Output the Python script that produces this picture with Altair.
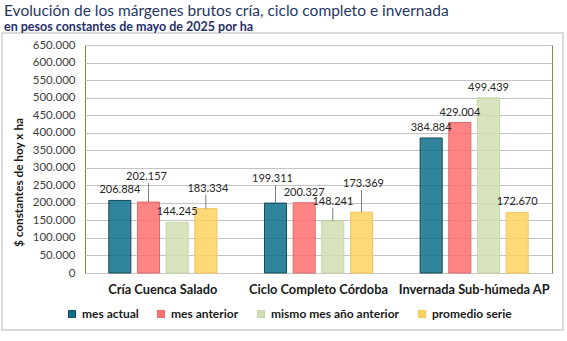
import altair as alt
import pandas as pd

groups = ["Cría Cuenca Salado", "Ciclo Completo Córdoba", "Invernada Sub-húmeda AP"]
series = ["mes actual", "mes anterior", "mismo mes año anterior", "promedio serie"]
mes_actual = [206884, 199311, 384884]
mes_anterior = [202157, 200327, 429004]
mismo_mes_anio_anterior = [144245, 148241, 499439]
promedio_serie = [183334, 173369, 172670]
y_ticks = list(range(0, 650001, 50000))

fills = ["#0C6E89", "#FF7070", "#D0DFB1", "#FFD160"]
strokes = ["#17485A", "#E06A6A", "#C5D6A4", "#F2C65C"]

rows = []
for s, vals in zip(series, [mes_actual, mes_anterior, mismo_mes_anio_anterior, promedio_serie]):
    for g, v in zip(groups, vals):
        rows.append({"grupo": g, "serie": s, "valor": v, "clave": g + "|" + s})
df = pd.DataFrame(rows)

FONT = "Lato"
W, H = 467, 228

x_enc = alt.X("grupo:N", sort=groups, title=None,
              scale=alt.Scale(paddingInner=0, paddingOuter=0),
              axis=alt.Axis(labelFont=FONT, labelFontWeight="bold", labelFontSize=12.8,
                            labelColor="#1a1a1a", labelAngle=0, ticks=False, tickSize=0,
                            domain=False, labelPadding=10, grid=False))
xo_enc = alt.XOffset("serie:N", sort=series,
                     scale=alt.Scale(paddingInner=0.23, paddingOuter=0.83))
y_enc = alt.Y("valor:Q", title="$ constantes de hoy x ha",
              scale=alt.Scale(domain=[0, 650000], nice=False),
              axis=alt.Axis(values=y_ticks, labelExpr="replace(format(datum.value, ','), ',', '.')",
                            labelFont=FONT, labelFontSize=11.5, labelColor="#404040",
                            ticks=False, domain=False, labelPadding=10,
                            gridColor="#C4C4C4", gridWidth=1,
                            titleFont=FONT, titleFontWeight="bold", titleFontSize=11.8,
                            titleColor="#1a1a1a", titleX=-67, titleY=137,
                            titleAlign="center", titleBaseline="middle", titleAngle=-90))

legend = alt.Legend(orient="none", legendX=-19, legendY=263, direction="horizontal",
                    title=None, symbolType="square", symbolSize=50, symbolStrokeWidth=1,
                    labelFont=FONT, labelFontWeight="bold", labelFontSize=12,
                    labelColor="#1a1a1a", columnPadding=16, labelOffset=4)

base = alt.Chart(df).encode(x=x_enc, xOffset=xo_enc, y=y_enc)

bars = base.mark_bar(fillOpacity=0.85, strokeWidth=1).encode(
    color=alt.Color("serie:N", sort=series, scale=alt.Scale(domain=series, range=fills), legend=legend),
    stroke=alt.Stroke("serie:N", sort=series, scale=alt.Scale(domain=series, range=strokes), legend=legend),
)

# label placement: key -> (lift in px, dx in px, leader line)
placements = {
    "Cría Cuenca Salado|mes anterior": (25, -2, True),
    "Cría Cuenca Salado|promedio serie": (20, 2, True),
    "Ciclo Completo Córdoba|mes actual": (24, -3, True),
    "Ciclo Completo Córdoba|mismo mes año anterior": (19, 0, True),
    "Ciclo Completo Córdoba|promedio serie": (28, 2, True),
}

lab = base.transform_calculate(
    etiqueta="replace(format(datum.valor, ','), ',', '.')"
)

special_keys = list(placements.keys())
layers = []
normal = lab.transform_filter(
    ~alt.FieldOneOfPredicate(field="clave", oneOf=special_keys)
).mark_text(font=FONT, fontSize=11, color="#262626", dy=-10, baseline="middle").encode(
    text="etiqueta:N")
layers.append(normal)
for k, (lift, dx, leader) in placements.items():
    t = lab.transform_filter(alt.datum.clave == k).mark_text(
        font=FONT, fontSize=11, color="#262626", dy=-lift, dx=dx, baseline="middle"
    ).encode(text="etiqueta:N")
    layers.append(t)
    if leader:
        r = base.transform_filter(alt.datum.clave == k).mark_rule(
            color="#7F7F7F", strokeWidth=1, y2Offset=-(lift - 6)
        ).encode(y2="valor:Q")
        layers.append(r)

frame_df = pd.DataFrame({"a": [0]})
frame = alt.Chart(frame_df).mark_rect(fillOpacity=0, stroke="#D0D0D0", strokeWidth=1.5).encode(
    x=alt.value(-83), x2=alt.value(478), y=alt.value(-12), y2=alt.value(285))

title = alt.Chart(frame_df).mark_text(
    text="Evolución de los márgenes brutos cría, ciclo completo e invernada",
    font=FONT, fontSize=15.5, color="#1F3864", align="left", baseline="middle"
).encode(x=alt.value(-81), y=alt.value(-34))

sub1 = alt.Chart(frame_df).mark_text(
    text="en pesos constantes de mayo de 2025 por ha",
    font=FONT, fontSize=12.5, fontWeight="bold", color="#1F2F6B", align="left", baseline="middle"
).encode(x=alt.value(-81), y=alt.value(-18))

chart = alt.layer(frame, bars, *layers, title, sub1).properties(
    width=W, height=H,
    autosize=alt.AutoSizeParams(type="none"),
    padding={"left": 85, "top": 45, "right": 15, "bottom": 68},
    background="white",
).configure_view(stroke="#77933C", strokeWidth=1)

chart.save("out.html", embed_options={"renderer": "svg", "actions": False})
